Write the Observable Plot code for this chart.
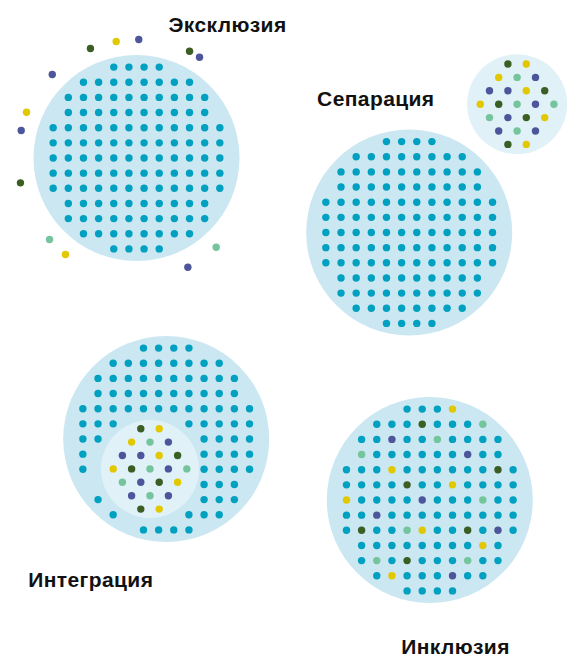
<!DOCTYPE html>
<html><head><meta charset="utf-8">
<script src="https://cdn.jsdelivr.net/npm/d3@7"></script>
<script src="https://cdn.jsdelivr.net/npm/@observablehq/plot@0.6"></script>
<style>html,body{margin:0;padding:0;background:#fff}#chart svg{display:block}</style>
</head><body><div id="chart"></div>
<script>
// ---- data ----
const panelNames = ["Эксклюзия", "Сепарация", "Интеграция", "Инклюзия"];
const groupKeys = ["t", "p", "y", "d", "l"]; // majority, purple, yellow, dark green, light green
const groupColors = ["#00a0c0", "#4d559b", "#e2c800", "#3b5e24", "#74c49c"];
// majority population: dots per row of the round grid
const fullRowCounts = [4, 8, 10, 10, 12, 12, 12, 12, 12, 10, 10, 8, 4];
// Integration: majority grid with a gap for the minority cluster
const integrationRows = [
  "....tttt....",
  "..tttttttt..",
  ".tttttttttt.",
  ".tttttttttt.",
  "tttttttttttt",
  "ttt....ttttt",
  "tt......tttt",
  "t.......tttt",
  "t.......tttt",
  "........ttt.",
  ".t......ttt.",
  "..t....ttt..",
  "....tttt...."
];
// Inclusion: minority dots scattered through the grid
const inclusionRows = [
  "....ttty....",
  "..tttdtttl..",
  ".ttpttltttt.",
  ".lttttttptt.",
  "tttyttttttdt",
  "ttttdttytttt",
  "yttttptttltt",
  "ttpttttttttt",
  "tdttlyttdtpt",
  ".ttttttttyt.",
  ".tltdtttltt.",
  "..tytttptt..",
  "....tttt...."
];
// minority cluster (Separation & Integration), hexagonal rows
const clusterRows = ["dy", "ylp", "ppyd", "ydlpl", "lpdy", "plp", "dy"];
// Exclusion: minority dots outside the circle, offsets in dot spacings
const outsiderGroup = ["d", "y", "p", "d", "p", "p", "y", "p", "d", "l", "y", "l", "p"];
const outsiderDx = [-3.04, -1.34, 0.15, 3.50, 4.16, -5.56, -7.26, -7.61, -7.66, -5.74, -4.69, 5.26, 3.39];
const outsiderDy = [-7.23, -7.69, -7.82, -7.05, -6.65, -5.51, -3.02, -1.82, 1.64, 5.38, 6.37, 5.89, 7.21];

// ---- layout (chart units = pixels of the 568x657 canvas) ----
const W = 568, H = 657;
const S = 15.15;            // grid spacing
const HX = 18.4, HY = 13.4; // cluster spacing
const layout = {
  "Эксклюзия": {cx: 136, cy: 157.5, lx: 227, ly: 24.3},
  "Сепарация": {cx: 408.7, cy: 232, lx: 375.3, ly: 98.8, mx: 516.6, my: 103.7, mr: 50},
  "Интеграция": {cx: 165.7, cy: 438.5, lx: 90.3, ly: 579.8, mx: 149.5, my: 468.4, mr: 49},
  "Инклюзия": {cx: 429.3, cy: 499.5, lx: 455, ly: 646.5}
};

const fullRows = fullRowCounts.map(n => ".".repeat((12 - n) / 2) + "t".repeat(n) + ".".repeat((12 - n) / 2));
const panelRows = {"Эксклюзия": fullRows, "Сепарация": fullRows, "Интеграция": integrationRows, "Инклюзия": inclusionRows};

const gridDots = [];
for (const name of panelNames) {
  const L = layout[name];
  panelRows[name].forEach((s, r) => {
    [...s].forEach((ch, c) => {
      if (ch !== ".") gridDots.push({panel: name, g: ch, x: L.cx + (c - 5.5) * S, y: L.cy + (r - 6) * S});
    });
  });
}
const clusterDots = [];
for (const name of ["Сепарация", "Интеграция"]) {
  const L = layout[name];
  clusterRows.forEach((s, i) => {
    [...s].forEach((ch, k) => {
      clusterDots.push({panel: name, g: ch, x: L.mx + (k - (s.length - 1) / 2) * HX, y: L.my + (i - 3) * HY});
    });
  });
}
const outsiders = outsiderGroup.map((g, i) => ({g, x: layout["Эксклюзия"].cx + outsiderDx[i] * S, y: layout["Эксклюзия"].cy + outsiderDy[i] * S}));
const panels = panelNames.map(name => ({name, ...layout[name]}));
const clusters = panels.filter(p => p.mx !== undefined);

const chart = Plot.plot({
  width: W, height: H, margin: 0,
  x: {domain: [0, W], range: [0, W], axis: null},
  y: {domain: [0, H], range: [0, H], axis: null},
  color: {domain: groupKeys, range: groupColors},
  style: {background: "#fff", letterSpacing: "0.4px"},
  marks: [
    Plot.dot(panels, {x: "cx", y: "cy", r: 103, fill: "#cbe7f1"}),
    Plot.dot(clusters.filter(p => p.name === "Сепарация"), {x: "mx", y: "my", r: 50, fill: "#e1f1f8"}),
    Plot.dot(clusters.filter(p => p.name === "Интеграция"), {x: "mx", y: "my", r: 49, fill: "#e1f1f8"}),
    Plot.dot(gridDots, {x: "x", y: "y", r: 3.7, fill: "g"}),
    Plot.dot(clusterDots, {x: "x", y: "y", r: 3.7, fill: "g"}),
    Plot.dot(outsiders, {x: "x", y: "y", r: 3.7, fill: "g"}),
    Plot.text(panels, {x: "lx", y: "ly", text: "name", fontSize: 21, fontWeight: "bold", fontFamily: "Liberation Sans, Arial, sans-serif", fill: "#111", textAnchor: "middle"})
  ]
});
document.getElementById("chart").append(chart);
</script></body></html>
